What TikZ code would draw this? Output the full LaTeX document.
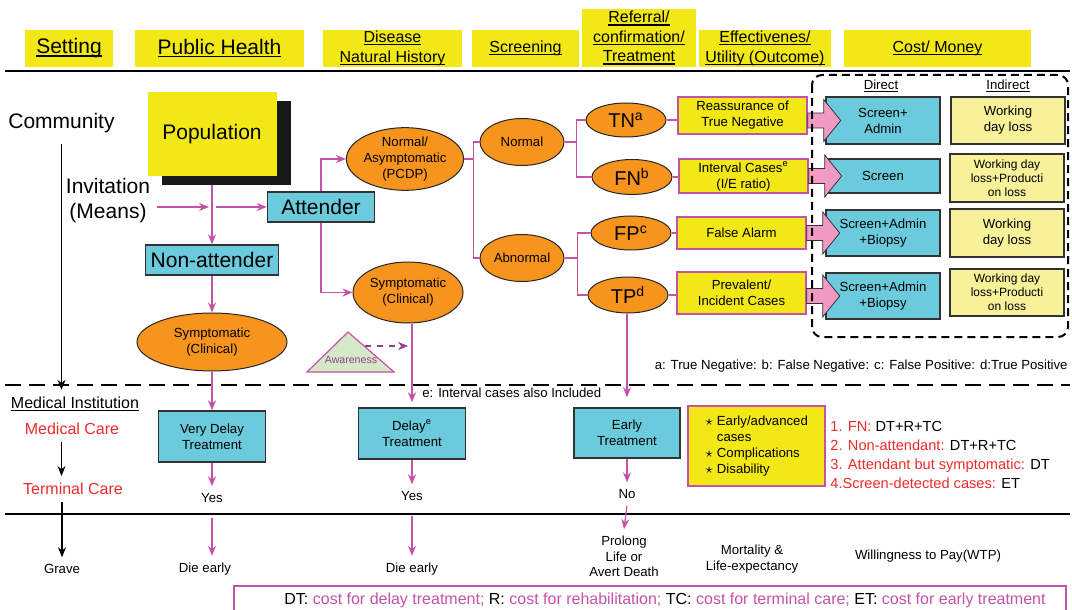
\documentclass[tikz,border=0pt]{standalone}
\usepackage{fontspec}
\setmainfont{Liberation Sans}
\newcommand{\hul}[1]{\setbox0\hbox{#1}\rlap{\rule[-1.3pt]{\wd0}{0.55pt}}\box0}
\usetikzlibrary{arrows.meta,shapes.geometric,calc}
\definecolor{hdryellow}{RGB}{242,232,22}
\definecolor{boxcyan}{RGB}{107,203,221}
\definecolor{ellorange}{RGB}{247,148,29}
\definecolor{linkpink}{RGB}{196,82,168}
\definecolor{arrpink}{RGB}{242,154,196}
\definecolor{paleyellow}{RGB}{247,242,154}
\definecolor{awaregreen}{RGB}{212,233,200}
\definecolor{carered}{RGB}{238,42,42}
\definecolor{awarepurple}{RGB}{150,60,140}
\definecolor{edgegray}{RGB}{50,50,50}
\tikzset{
  bigtxt/.style={font=\fontsize{10.5}{12.5}\selectfont},
  midtxt/.style={font=\fontsize{8}{9.75}\selectfont},
  smalltxt/.style={font=\fontsize{6.6}{8}\selectfont},
  tinytxt/.style={font=\fontsize{6}{7}\selectfont},
  hdrbox/.style={fill=hdryellow, inner sep=0pt, align=center, midtxt, minimum height=18.5pt},
  cyanbox/.style={draw=edgegray, line width=0.75pt, fill=boxcyan, inner sep=0pt, align=center},
  orangeell/.style={ellipse, draw=black!85, line width=0.5pt, fill=ellorange, inner sep=0pt, align=center, smalltxt},
  outbox/.style={draw=linkpink, line width=0.7pt, fill=hdryellow, inner sep=0pt, align=center, smalltxt, minimum width=64.5pt},
  indbox/.style={draw=edgegray, line width=0.75pt, fill=paleyellow, inner sep=0pt, align=center, minimum width=57pt},
  link/.style={draw=linkpink, line width=0.6pt},
  linkarr/.style={link, -{Stealth[length=5pt,width=4pt]}},
  blkarr/.style={draw=black, line width=0.6pt, -{Stealth[length=5pt,width=4pt]}},
  blockarr/.style={fill=arrpink, draw=black!80, line width=0.4pt}
}
\begin{document}
  \begin{tikzpicture}[x=0.5pt, y=-0.5pt]
    \useasboundingbox (0,0) rectangle (1072,610);
    \node[hdrbox, minimum width=44pt, bigtxt] (hset) at (69,48.5) {\hul{Setting}};
    \node[hdrbox, minimum width=84.5pt, bigtxt] (hpub) at (219.5,48.5) {\hul{Public Health}};
    \node[hdrbox, minimum width=69.5pt] (hdis) at (392.5,48.5) {\hul{Disease}\\\hul{Natural History}};
    \node[hdrbox, minimum width=53.5pt] (hscr) at (525.5,48.5) {\hul{Screening}};
    \node[hdrbox, minimum width=57pt, minimum height=29pt] (href) at (639,38) {\hul{Referral/}\\\hul{confirmation/}\\\hul{Treatment}};
    \node[hdrbox, minimum width=66pt] (heff) at (765,48.5) {\hul{Effectivenes/}\\\hul{Utility (Outcome)}};
    \node[hdrbox, minimum width=93.5pt] (hcost) at (937.5,48.5) {\hul{Cost/ Money}};
    \draw[line width=0.6pt] (5,71) -- (1070,71);
    \draw[line width=0.6pt, dash pattern=on 8pt off 4pt] (5,385) -- (1070,385);
    \draw[line width=0.6pt] (5,514) -- (1070,514);

    \node[bigtxt] (comm) at (61.5,123) {Community};
    \node[bigtxt, align=center] (inv) at (108,201) {Invitation\\(Means)};
    \node[fill=black!90, minimum width=64.5pt, minimum height=42pt] (popshadow) at (226,143) {};
    \node[fill=hdryellow, minimum width=64.5pt, minimum height=42pt, bigtxt] (pop) at (212,134) {Population};
    \node[cyanbox, minimum width=53.5pt, minimum height=15pt, bigtxt] (att) at (321,207) {Attender};
    \node[cyanbox, minimum width=66.5pt, minimum height=15pt, bigtxt] (nonatt) at (212,260) {Non-attender};
    \node[orangeell, minimum width=55pt, minimum height=31pt] (normasym) at (405,159) {Normal/\\Asymptomatic\\(PCDP)};
    \node[orangeell, minimum width=55pt, minimum height=30.5pt] (sympA) at (408,292.5) {Symptomatic\\(Clinical)};
    \node[orangeell, minimum width=75pt, minimum height=29pt] (sympL) at (212,342) {Symptomatic\\(Clinical)};
    \node[orangeell, minimum width=42pt, minimum height=23.5pt] (normal) at (522,142) {Normal};
    \node[orangeell, minimum width=42pt, minimum height=23.5pt] (abnormal) at (522,258) {Abnormal};
    \node[orangeell, minimum width=40pt, minimum height=17pt, font=\fontsize{10}{12}\selectfont] (tn) at (626,120) {TN\textsuperscript{a}};
    \node[orangeell, minimum width=40pt, minimum height=17.5pt, font=\fontsize{10}{12}\selectfont] (fn) at (632,177) {FN\textsuperscript{b}};
    \node[orangeell, minimum width=40pt, minimum height=17pt, font=\fontsize{10}{12}\selectfont] (fp) at (631,233) {FP\textsuperscript{c}};
    \node[orangeell, minimum width=40pt, minimum height=18pt, font=\fontsize{10}{12}\selectfont] (tp) at (628,295) {TP\textsuperscript{d}};
    \node[outbox, minimum height=18.5pt] (reas) at (742.5,115.5) {Reassurance of\\True Negative};
    \node[outbox, minimum height=17pt] (interv) at (743.5,176) {Interval Cases\textsuperscript{e}\\(I/E ratio)};
    \node[outbox, minimum height=16pt] (falarm) at (741.5,233) {False Alarm};
    \node[outbox, minimum height=21pt] (preval) at (741.5,293) {Prevalent/\\Incident Cases};
    \node[smalltxt] (direct) at (881,86) {\hul{Direct}};
    \node[smalltxt] (indirect) at (1008,86) {\hul{Indirect}};
    \node[cyanbox, minimum width=57pt, minimum height=23.5pt, smalltxt] (d1) at (883,120.5) {Screen+\\Admin};
    \node[cyanbox, minimum width=57pt, minimum height=17pt, smalltxt] (d2) at (883,176) {Screen};
    \node[cyanbox, minimum width=57pt, minimum height=23pt, smalltxt] (d3) at (883,233) {Screen+Admin\\+Biopsy};
    \node[cyanbox, minimum width=57pt, minimum height=23pt, smalltxt] (d4) at (883,296) {Screen+Admin\\+Biopsy};
    \node[indbox, minimum height=23.5pt, smalltxt] (i1) at (1008,120.5) {Working\\day loss};
    \node[indbox, minimum height=24pt, tinytxt] (i2) at (1007,178) {Working day\\loss+Producti\\on loss};
    \node[indbox, minimum height=24pt, smalltxt] (i3) at (1007,233) {Working\\day loss};
    \node[indbox, minimum height=23.5pt, tinytxt] (i4) at (1007,292.5) {Working day\\loss+Producti\\on loss};
    \node[smalltxt, anchor=east, inner sep=0pt] (legend) at (1068,366) {a: True Negative: b: False Negative: c: False Positive: d:True Positive};
    \node[smalltxt, anchor=west, inner sep=0pt] (enote) at (422,393) {e: Interval cases also Included};

    \draw[fill=awaregreen, draw=linkpink, line width=0.6pt] (348,332) -- (394,372) -- (307,372) -- cycle;
    \node[font=\fontsize{5.3}{6}\selectfont, text=awarepurple, inner sep=0pt] (aware) at (351,360) {Awareness};
    \coordinate (awfrom) at (365,346);
    \coordinate (awto) at (408,346);

    \node[midtxt] (medinst) at (75,404) {\hul{Medical Institution}};
    \node[midtxt, text=carered] (medcare) at (72,429) {Medical Care};
    \node[midtxt, text=carered] (termcare) at (73,489) {Terminal Care};
    \node[smalltxt] (grave) at (62,569) {Grave};
    \node[cyanbox, minimum width=53.5pt, minimum height=25.5pt, smalltxt] (verydelay) at (212,436.5) {Very Delay\\Treatment};
    \node[cyanbox, minimum width=53.5pt, minimum height=25.5pt, smalltxt] (delay) at (412,433.5) {Delay\textsuperscript{e}\\Treatment};
    \node[cyanbox, minimum width=53pt, minimum height=25pt, smalltxt] (early) at (627,433) {Early\\Treatment};
    \node[draw=linkpink, line width=0.7pt, fill=hdryellow, minimum width=68.5pt, minimum height=40pt, align=left, smalltxt] (compl) at (756.5,446) {$\star$ Early/advanced\\\phantom{$\star$} cases\\$\star$ Complications\\$\star$ Disability};
    \node[anchor=west, align=left, font=\fontsize{7.3}{9.65}\selectfont, inner sep=0pt] (costlist) at (830,455) {\textcolor{carered}{1. FN:} DT+R+TC\\\textcolor{carered}{2. Non-attendant:} DT+R+TC\\\textcolor{carered}{3. Attendant but symptomatic:} DT\\\textcolor{carered}{4.Screen-detected cases:} ET};
    \node[smalltxt] (yes1) at (212,498) {Yes};
    \node[smalltxt] (yes2) at (412,496) {Yes};
    \node[smalltxt] (no) at (627,494) {No};
    \node[smalltxt] (die1) at (205,569) {Die early};
    \node[smalltxt] (die2) at (412,569) {Die early};
    \node[smalltxt, align=center, font=\fontsize{6.6}{7.8}\selectfont] (prolong) at (624,556.5) {Prolong\\Life or\\Avert Death};
    \node[smalltxt, align=center] (mortal) at (752,559) {Mortality \&\\Life-expectancy};
    \node[smalltxt] (wtp) at (928,556) {Willingness to Pay(WTP)};
    \node[draw=linkpink, line width=0.7pt, minimum width=416pt, minimum height=14pt, midtxt] (costnote) at (650,600) {\hspace*{15pt}DT: \textcolor{linkpink}{cost for delay treatment;} R: \textcolor{linkpink}{cost for rehabilitation;} TC: \textcolor{linkpink}{cost for terminal care;} ET: \textcolor{linkpink}{cost for early treatment}};

    \draw[linkarr, shorten >=1.5pt] (inv.east |- att) -- (pop.south |- att);
    \draw[linkarr, shorten <=2pt] (pop.south |- att) -- (att.west);
    \draw[linkarr] (pop.south |- popshadow.south) -- (nonatt.north);
    \draw[linkarr] (nonatt.south) -- (sympL.north);
    \draw[linkarr] (sympL.south) -- (verydelay.north);
    \draw[linkarr] (att.north) |- (normasym.west);
    \draw[linkarr] (att.south) |- (sympA.west);
    \draw[link] (normasym.east) -- ++(9,0) coordinate (nbr);
    \draw[link] (normal.west) -| (nbr) |- (abnormal.west);
    \draw[link] (normal.east) -- ++(12,0) coordinate (tbr);
    \draw[link] (tn.west) -| (tbr) |- (fn.west);
    \draw[link] (abnormal.east) -- ++(13,0) coordinate (abr);
    \draw[link] (fp.west) -| (abr) |- (tp.west);
    \foreach \elnode/\outnode in {tn/reas, fn/interv, fp/falarm, tp/preval}
      \draw[link] (\elnode.east) -- (\elnode.east -| \outnode.west);
    \foreach \src/\dst in {reas/d1, interv/d2, falarm/d3, preval/d4}
      \filldraw[blockarr] (\src.east |- \dst.west) -- ++(0,-7.5) -- ++(16,0) -- ++(0,-13.5) -- ++(17,21) -- ++(-17,21) -- ++(0,-13.5) -- ++(-16,0) -- cycle;
    \draw[line width=1pt, dash pattern=on 4pt off 2.5pt, rounded corners=5pt] (812,75) rectangle (1068,337);
    \draw[linkarr, shorten >=2.5pt] (sympA.south -| delay.north) -- (delay.north);
    \draw[linkarr, shorten >=5pt] (tp.south -| early.north) -- (early.north);
    \draw[draw=awarepurple, line width=0.6pt, dashed, -{Stealth[length=5pt,width=4pt]}] (awfrom) -- (awto);
    \draw[linkarr] (verydelay.south) -- (yes1.north);
    \draw[linkarr, shorten <=4pt] (yes1.south) -- (die1.north -| yes1.south);
    \draw[linkarr] (delay.south) -- (yes2.north);
    \draw[linkarr, shorten <=4pt] (yes2.south) -- (die2.north);
    \draw[linkarr] (early.south) -- (no.north);
    \draw[linkarr] (no.south) -- (prolong.north);
    \draw[blkarr, shorten <=2pt] (comm.south) -- (comm.south |- medinst.north);
    \draw[blkarr] (medcare.south -| comm.south) -- (termcare.north -| comm.south);
    \draw[blkarr] (termcare.south -| grave.north) -- (grave.north);
  \end{tikzpicture}
\end{document}
